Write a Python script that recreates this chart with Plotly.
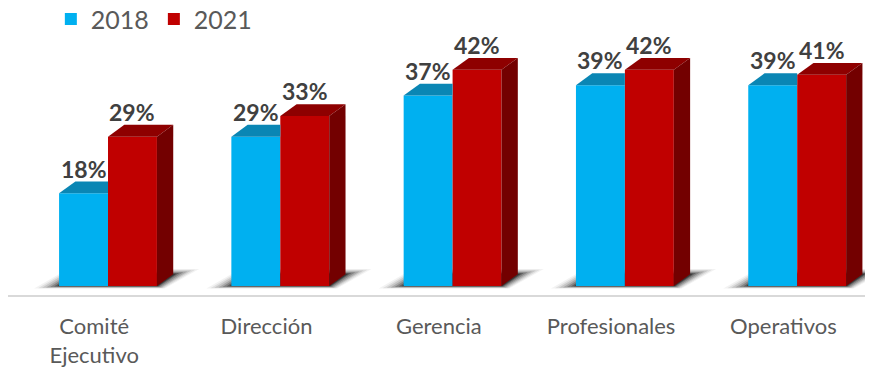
import plotly.graph_objects as go

# Data
categories = ["Comité<br>Ejecutivo", "Dirección", "Gerencia", "Profesionales", "Operativos"]
years = ["2018", "2021"]
values_2018 = [18, 29, 37, 39, 39]
values_2021 = [29, 33, 42, 42, 41]

# Styling
BLUE_FRONT, BLUE_TOP = "#00B0F0", "#0A86B4"
RED_FRONT, RED_TOP, RED_SIDE = "#C00000", "#8E0000", "#730000"
LABEL_COLOR = "#404040"
TICK_COLOR = "#595959"
FONT = "Lato, 'Open Sans', sans-serif"

BAR_W = 0.284          # width of one bar in category units
DX, DY = 0.0946, 2.29  # 3D depth offset (x units, y units)
PX_X, PX_Y = 1 / 172.3, 1 / 5.15  # one pixel in data units

xs = list(range(len(categories)))

fig = go.Figure()

# Floor shadows under each group (layered translucent footprints)
shadow_layers = [(2, 3, 0.5, 0.4), (5, 6, 1.2, 0.28), (9, 10, 2.0, 0.2),
                 (13, 14, 2.8, 0.15), (17, 18, 3.6, 0.11), (21, 22, 4.4, 0.08),
                 (25, 26, 5.2, 0.05)]
for i in xs:
    x0, x1 = i - BAR_W, i + BAR_W
    for ex_l, ex_r, ey, alpha in shadow_layers:
        l, r = x0 - ex_l * PX_X, x1 + DX + ex_r * PX_X
        b, t = -ey * PX_Y * 0.5, DY + ey * PX_Y
        path = (f"M{l},{b} L{x1 + ex_r * PX_X * 0.3},{b} L{r},{t} "
                f"L{x0 + DX - ex_l * PX_X * 0.3},{t} Z")
        fig.add_shape(type="path", path=path, xref="x", yref="y",
                      fillcolor=f"rgba(0,0,0,{alpha})", line=dict(width=0), layer="below")

# Front faces
fig.add_trace(go.Bar(x=xs, y=values_2018, name=years[0], width=BAR_W, offset=-BAR_W,
                     marker=dict(color=BLUE_FRONT, line=dict(width=0)), hoverinfo="skip"))
fig.add_trace(go.Bar(x=xs, y=values_2021, name=years[1], width=BAR_W, offset=0,
                     marker=dict(color=RED_FRONT, line=dict(width=0)), hoverinfo="skip"))


def poly(px, py, color):
    fig.add_trace(go.Scatter(x=px, y=py, mode="lines", fill="toself", fillcolor=color,
                             line=dict(width=0, color=color), showlegend=False,
                             hoverinfo="skip"))


for i, v1, v2 in zip(xs, values_2018, values_2021):
    # 2018 top (the part behind the 2021 bar is hidden)
    b0, b1 = i - BAR_W, i
    poly([b0, b1, b1, b0 + DX, b0], [v1, v1, v1 + DY, v1 + DY, v1], BLUE_TOP)
    # 2021 top and side
    r0, r1 = i, i + BAR_W
    poly([r0, r1, r1 + DX, r0 + DX, r0], [v2, v2, v2 + DY, v2 + DY, v2], RED_TOP)
    poly([r1, r1 + DX, r1 + DX, r1, r1], [0, DY, v2 + DY, v2, 0], RED_SIDE)

# Value labels
for i, v1, v2 in zip(xs, values_2018, values_2021):
    for xc, v in ((i - BAR_W / 2, v1), (i + BAR_W / 2, v2)):
        fig.add_annotation(x=xc, y=v + DY, text=f"{v}%", showarrow=False,
                           xanchor="center", yanchor="bottom", yshift=-3,
                           font=dict(family=FONT, size=23, color=LABEL_COLOR, weight="bold"))

fig.update_layout(
    width=871, height=371,
    margin=dict(l=8, r=6, t=0, b=76, autoexpand=False),
    plot_bgcolor="white", paper_bgcolor="white",
    showlegend=True,
    legend=dict(orientation="h", x=0.05, y=1.013, xanchor="left", yanchor="top",
                font=dict(family=FONT, size=25, color=TICK_COLOR),
                itemwidth=30, traceorder="normal", bgcolor="rgba(0,0,0,0)"),
    xaxis=dict(range=[-0.5804, 4.3936], tickmode="array",
               tickvals=[i - 0.08 for i in xs], ticktext=categories,
               showgrid=False, zeroline=False, showline=True, linecolor="#D9D9D9", linewidth=2,
               ticks="outside", ticklen=11, tickcolor="rgba(0,0,0,0)",
               tickfont=dict(family=FONT, size=22, color=TICK_COLOR), fixedrange=True),
    yaxis=dict(range=[-1.748, 55.53], visible=False, showgrid=False, zeroline=False,
               fixedrange=True),
)

fig.write_html("out.html")
